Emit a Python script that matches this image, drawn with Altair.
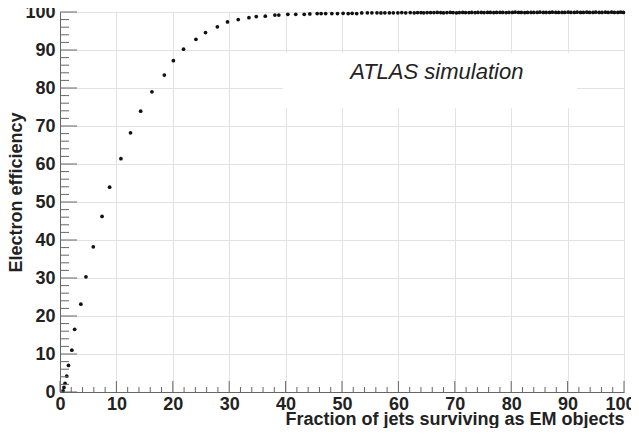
import altair as alt
import pandas as pd

# ---- data ----
frac_jets = [0.55, 0.7, 0.9, 1.2, 1.5, 2.1, 2.6, 3.7, 4.6, 5.9,
             7.45, 8.8, 10.8, 12.5, 14.3, 16.3, 18.5, 20.1, 21.9, 24.1,
             25.8, 27.9, 29.7, 31.6, 33.5, 34.8, 36.4, 38.1, 38.8, 40.4,
             41.8, 43.3, 44.3, 45.6, 46.3, 47.1, 48.2, 49.2, 50.2, 51.1,
             51.8, 52.6,
             53.5, 54.5, 55.3, 56.2, 56.9, 57.6, 58.4, 59.1, 59.9, 60.6,
             61.3, 62.1, 62.8, 63.4, 64.0, 64.5, 65.1, 65.7, 66.3, 66.9,
             67.5, 68.0, 68.6, 69.2, 69.7, 70.3, 70.8, 71.4, 71.9, 72.5,
             73.0, 73.6, 74.1, 74.7, 75.2, 75.8, 76.3, 76.9, 77.4, 78.0,
             78.5, 79.1, 79.6, 80.2, 80.7, 81.3, 81.8, 82.4, 82.9, 83.5,
             84.0, 84.6, 85.1, 85.7, 86.2, 86.8, 87.3, 87.9, 88.4, 89.0,
             89.5, 90.1, 90.6, 91.2, 91.7, 92.3, 92.8, 93.4, 93.9, 94.5,
             95.0, 95.6, 96.1, 96.7, 97.2, 97.8, 98.3, 98.9, 99.4, 99.9]

electron_eff = [0.3, 1.2, 2.3, 4.2, 7.0, 11.0, 16.5, 23.1, 30.3, 38.2,
                46.2, 53.9, 61.4, 68.2, 73.9, 79.0, 83.4, 87.2, 90.2, 92.8,
                94.6, 96.1, 97.4, 98.0, 98.5, 98.8, 98.9, 99.2, 99.2, 99.4,
                99.4, 99.4, 99.5, 99.6, 99.6, 99.6, 99.6, 99.6, 99.65, 99.6,
                99.65, 99.6,
                99.75, 99.8, 99.8, 99.8, 99.75, 99.8, 99.8, 99.8, 99.8, 99.85,
                99.8, 99.85, 99.8, 99.85, 99.85, 99.8, 99.85, 99.85, 99.85, 99.9,
                99.85, 99.8, 99.85, 99.9, 99.85, 99.8, 99.85, 99.9, 99.85, 99.85,
                99.9, 99.85, 99.9, 99.9, 99.85, 99.9, 99.9, 99.85, 99.9, 99.9,
                99.9, 99.85, 99.9, 99.9, 99.95, 99.9, 99.9, 99.85, 99.9, 99.9,
                99.9, 99.9, 99.95, 99.9, 99.9, 99.9, 99.95, 99.9, 99.9, 99.9,
                99.9, 99.95, 99.9, 99.9, 99.95, 99.9, 99.9, 99.95, 99.9, 99.9,
                99.95, 99.9, 99.9, 99.95, 99.9, 99.95, 99.9, 99.9, 99.95, 99.9]

major_ticks = [0, 10, 20, 30, 40, 50, 60, 70, 80, 90, 100]
minor_ticks = [v for v in range(0, 101, 2) if v % 10 != 0]

label_text = ["ATLAS simulation"]
label_x = [66.8]
label_y = [84.2]

box_x = [39.5]
box_x2 = [91.7]
box_y = [74.7]
box_y2 = [89.2]

# ---- tables ----
points = pd.DataFrame({"frac": frac_jets, "eff": electron_eff})
majors = pd.DataFrame({"t": major_ticks})
minors = pd.DataFrame({"t": minor_ticks})
label_df = pd.DataFrame({"x": label_x, "y": label_y, "txt": label_text})
box_df = pd.DataFrame({"x": box_x, "x2": box_x2, "y": box_y, "y2": box_y2})

W, H = 564, 380
FONT = "Liberation Sans"
xs = alt.Scale(domain=[0, 100], nice=False, zero=False)
ys = alt.Scale(domain=[0, 100], nice=False, zero=False)

x_axis = alt.Axis(
    values=major_ticks, format="d", grid=True, gridColor="#e2e2e2", gridWidth=1,
    ticks=False, domainColor="#666", domainWidth=1, labelFlush=False,
    labelOverlap=False,
    labelOffset={"condition": {"test": "datum.value === 100", "value": -4}, "value": 0},
    labelFont=FONT, labelFontSize=18, labelFontWeight="bold", labelColor="#222",
    labelPadding=3,
    title="Fraction of jets surviving as EM objects",
    titleFont=FONT, titleFontSize=18, titleFontWeight="bold", titleColor="#222",
    titleAlign="right", titleX=W, titleY=32.5, titleBaseline="alphabetic",
)
y_axis = alt.Axis(
    values=major_ticks, format="d", grid=True, gridColor="#e2e2e2", gridWidth=1,
    ticks=False, domainColor="#666", domainWidth=1, labelFlush=False,
    labelOverlap=False,
    labelFont=FONT, labelFontSize=18, labelFontWeight="bold", labelColor="#222",
    labelPadding=5,
    title="Electron efficiency",
    titleFont=FONT, titleFontSize=18, titleFontWeight="bold", titleColor="#222",
    titleAngle=270, titleAlign="center", titleBaseline="middle",
    titleX=-44, titleY=180,
)


def X(field):
    return alt.X(field, scale=xs, axis=x_axis, title="Fraction of jets surviving as EM objects")


def Y(field):
    return alt.Y(field, scale=ys, axis=y_axis, title="Electron efficiency")


dots = alt.Chart(points).mark_circle(size=14, color="#111", opacity=1).encode(
    x=X("frac:Q"), y=Y("eff:Q"),
)

box = alt.Chart(box_df).mark_rect(color="white").encode(
    x=X("x:Q"), x2="x2:Q", y=Y("y:Q"), y2="y2:Q",
)

label = alt.Chart(label_df).mark_text(
    font=FONT, fontSize=22, fontStyle="italic", color="#222",
    align="center", baseline="middle",
).encode(x=X("x:Q"), y=Y("y:Q"), text="txt:N")

TICK_COLOR = "#666"
y_major = alt.Chart(majors).mark_rule(color=TICK_COLOR, strokeWidth=1).encode(
    y=Y("t:Q"), x=alt.value(0), x2=alt.value(17))
y_minor = alt.Chart(minors).mark_rule(color=TICK_COLOR, strokeWidth=1).encode(
    y=Y("t:Q"), x=alt.value(0), x2=alt.value(9))
x_major = alt.Chart(majors).mark_rule(color=TICK_COLOR, strokeWidth=1).encode(
    x=X("t:Q"), y=alt.value(H), y2=alt.value(H - 11))
x_minor = alt.Chart(minors).mark_rule(color=TICK_COLOR, strokeWidth=1).encode(
    x=X("t:Q"), y=alt.value(H), y2=alt.value(H - 5))

chart = alt.layer(dots, box, label, y_major, y_minor, x_major, x_minor).properties(
    width=W, height=H,
    autosize=alt.AutoSizeParams(type="none"),
    padding={"left": 52, "top": 4, "right": 7, "bottom": 36},
    background="white",
).configure_view(stroke="#666", strokeWidth=1)

chart.save("out.html", embed_options={"renderer": "svg", "actions": False})
